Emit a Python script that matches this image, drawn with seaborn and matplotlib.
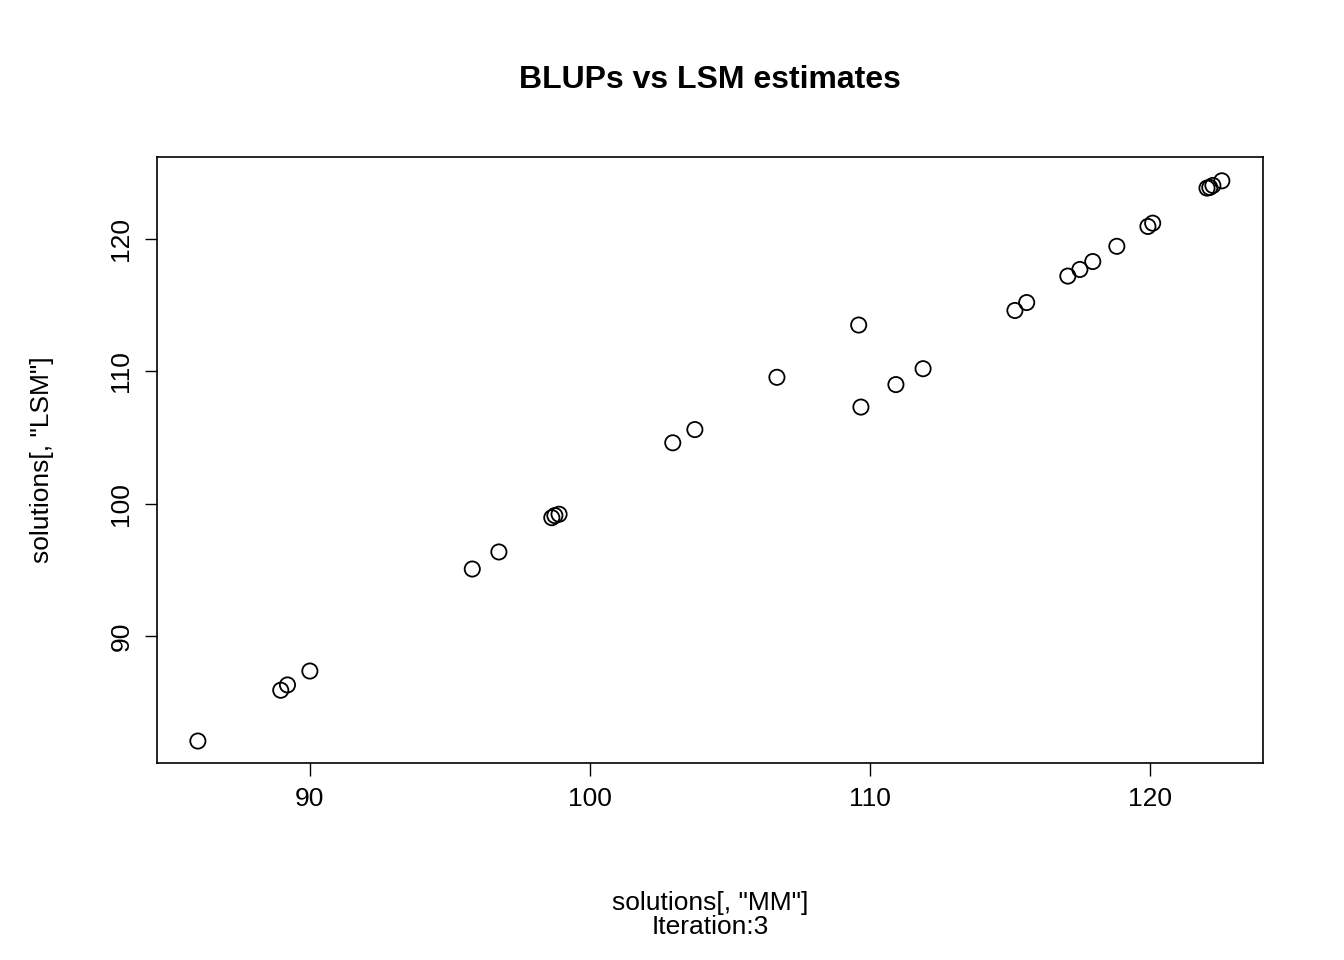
import pandas as pd
import matplotlib
matplotlib.use("Agg")
import matplotlib.pyplot as plt
import seaborn as sns

# values
mm = [86.0, 88.96, 89.2, 90.0, 95.8, 96.75, 98.64, 98.75, 98.9, 102.96, 103.75,
      106.68, 109.6, 109.68, 110.93, 111.9, 115.18, 115.6, 117.07, 117.5, 117.96,
      118.82, 119.93, 120.1, 122.04, 122.14, 122.25, 122.57]
lsm = [82.06, 85.9, 86.3, 87.35, 95.06, 96.35, 98.94, 99.1, 99.2, 104.6, 105.6,
       109.55, 113.5, 107.3, 109.0, 110.2, 114.6, 115.2, 117.2, 117.7, 118.3,
       119.45, 120.95, 121.2, 123.85, 123.9, 124.05, 124.4]
xticks = [90, 100, 110, 120]
yticks = [90, 100, 110, 120]

df = pd.DataFrame({"MM": mm, "LSM": lsm})

sns.set_style("ticks")
plt.rcParams["font.family"] = ["Liberation Sans", "DejaVu Sans"]
plt.rcParams["text.color"] = "black"
plt.rcParams["axes.labelcolor"] = "black"
plt.rcParams["xtick.color"] = "black"
plt.rcParams["ytick.color"] = "black"

fig = plt.figure(figsize=(13.44, 9.6), dpi=100)
ax = fig.add_axes([157 / 1344, 1 - 763 / 960, (1263 - 157) / 1344, (763 - 157) / 960])
sns.scatterplot(data=df, x="MM", y="LSM", ax=ax, s=120, facecolor="none",
                edgecolor="black", linewidth=1.3)

ax.set_xlim(84.54, 124.04)
ax.set_ylim(80.4, 126.2)
ax.set_xticks(xticks)
ax.set_yticks(yticks)
ax.set_yticklabels([str(t) for t in yticks], rotation=90, va="center")
ax.tick_params(labelsize=19, length=9, width=1, pad=8)
for s in ax.spines.values():
    s.set_linewidth(1.2)
    s.set_color("black")

ax.set_xlabel("solutions[, \"MM\"]\nIteration:3", fontsize=19, labelpad=58,
              linespacing=1.0)
ax.set_ylabel("solutions[, \"LSM\"]", fontsize=19, labelpad=40)
fig.text(0.528, 1 - 80 / 960, "BLUPs vs LSM estimates", ha="center", va="center",
         fontsize=23, fontweight="bold")

fig.savefig("out.png", dpi=100)
